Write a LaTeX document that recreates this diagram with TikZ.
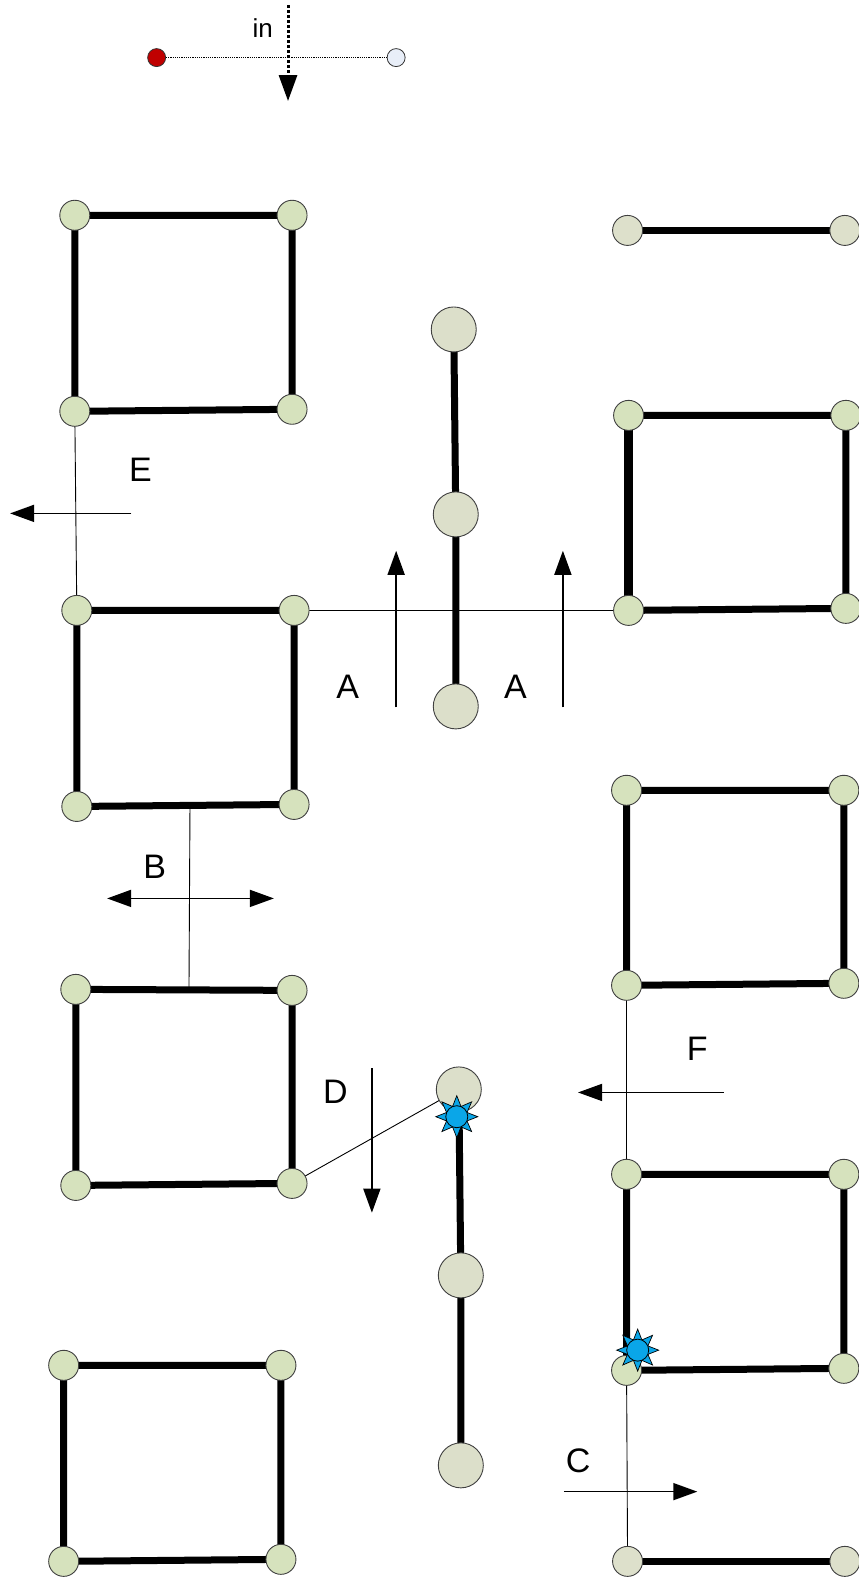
\documentclass[tikz,border=0pt]{standalone}
\usepackage{fontspec}
\setmainfont{Liberation Sans}
\usetikzlibrary{arrows.meta,shapes.geometric,backgrounds}
\definecolor{sqgreen}{HTML}{D6E2BD}
\definecolor{chaingrey}{HTML}{DCDFCA}
\definecolor{greyend}{HTML}{DDE0CB}
\definecolor{starblue}{HTML}{0AA6E8}
\definecolor{legred}{HTML}{C00000}
\definecolor{legwhite}{HTML}{E8EEF8}
\tikzset{
  sq/.style={circle,draw=black!75,line width=0.9pt,fill=sqgreen,minimum size=30pt,inner sep=0pt},
  sqg/.style={circle,draw=black!75,line width=0.9pt,fill=greyend,minimum size=30pt,inner sep=0pt},
  ch/.style={circle,draw=black!75,line width=0.9pt,fill=chaingrey,minimum size=45pt,inner sep=0pt},
  thick7/.style={line width=7pt},
  thick9/.style={line width=9pt},
  thinl/.style={line width=0.9pt},
  lbl/.style={font=\fontsize{34}{40}\selectfont,inner sep=0pt},
  arr/.style={line width=1.6pt,-{Triangle[length=24pt,width=17pt]}},
  darr/.style={line width=1.6pt,{Triangle[length=24pt,width=17pt]}-{Triangle[length=24pt,width=17pt]}},
  spark/.style={star,star points=8,star point ratio=1.9,minimum size=42pt,inner sep=0pt,draw=black,line width=0.7pt,fill=starblue},
  sparkdot/.style={circle,minimum size=22pt,inner sep=0pt,draw=black,line width=0.8pt,fill=starblue},
}
\begin{document}
\begin{tikzpicture}[x=1.0106pt,y=-1.0106pt]
\useasboundingbox (0,0) rectangle (850,1568.4);
% legend
\node[circle,draw=black!80,line width=0.8pt,fill=legred,minimum size=18pt,inner sep=0pt] (lr) at (155,57) {};
\node[circle,draw=black!80,line width=0.8pt,fill=legwhite,minimum size=18pt,inner sep=0pt] (lw) at (392,57) {};
\draw[line width=1.2pt,densely dotted] (lr) -- (lw);
\coordinate (inS) at (285,5);
\coordinate (inE) at (285,100);
\draw[line width=3pt,dotted,-{Triangle[length=26pt,width=18pt]}] (inS) -- (inE);
\node[font=\fontsize{26}{30}\selectfont,inner sep=0pt] (inlbl) at (260,28) {in};

% left column squares
\node[sq] (s1a) at (74,213) {};
\node[sq] (s1b) at (289,213) {};
\node[sq] (s1c) at (74,407) {};
\node[sq] (s1d) at (289,405) {};
\node[sq] (s2a) at (76,604) {};
\node[sq] (s2b) at (291,604) {};
\node[sq] (s2c) at (76,798) {};
\node[sq] (s2d) at (291,796) {};
\node[sq] (s3a) at (75,979) {};
\node[sq] (s3b) at (289,980) {};
\node[sq] (s3c) at (75,1173) {};
\node[sq] (s3d) at (289,1171) {};
\node[sq] (s4a) at (63,1351) {};
\node[sq] (s4b) at (278,1351) {};
\node[sq] (s4c) at (63,1545) {};
\node[sq] (s4d) at (278,1543) {};

% center chains
\node[ch] (c1) at (449,326) {};
\node[ch] (c2) at (451,509) {};
\node[ch] (c3) at (451,699) {};
\node[ch] (c4) at (454,1078) {};
\node[ch] (c5) at (456,1262) {};
\node[ch] (c6) at (456,1450) {};

% right column
\node[sqg] (t1) at (621,228) {};
\node[sqg] (t2) at (836,228) {};
\node[sq] (r1a) at (622,411) {};
\node[sq] (r1b) at (837,411) {};
\node[sq] (r1c) at (622,604) {};
\node[sq] (r1d) at (837,602) {};
\node[sq] (r2a) at (620,782) {};
\node[sq] (r2b) at (835,782) {};
\node[sq] (r2c) at (620,975) {};
\node[sq] (r2d) at (835,973) {};
\node[sq] (r3a) at (620,1162) {};
\node[sq] (r3b) at (835,1162) {};
\node[sq] (r3c) at (620,1356) {};
\node[sq] (r3d) at (835,1354) {};
\node[sqg] (b1) at (621,1545) {};
\node[sqg] (b2) at (836,1545) {};

\coordinate (bm1) at (188,797);
\coordinate (bm2) at (187,979);

\begin{scope}[on background layer]
  % thin connectors
  \draw[thinl] (s1c.center) -- (s2a.center);
  \draw[thinl] (bm1) -- (bm2);
  \draw[thinl] (s2b.center) -- (r1c.center);
  \draw[thinl] (s3d.center) -- (c4.center);
  \draw[thinl] (r2c.center) -- (r3a.center);
  \draw[thinl] (r3c.center) -- (b1.center);
  % thick squares
  \foreach \p in {s1,s2,s3,s4,r2,r3}{
    \draw[thick7] (\p a.center) -- (\p b.center) -- (\p d.center) -- (\p c.center) -- cycle;
  }
  \draw[thick7] (r1a.center) -- (r1b.center) -- (r1d.center) -- (r1c.center);
  \draw[thick9] (r1c.center) -- (r1a.center);
  \draw[thick7] (c1.center) -- (c2.center) -- (c3.center);
  \draw[thick7] (c4.center) -- (c5.center) -- (c6.center);
  \draw[thick7] (t1.center) -- (t2.center);
  \draw[thick7] (b1.center) -- (b2.center);
\end{scope}

% sparkles
\node[spark] (st1) at (452,1105) {};
\node[sparkdot] (sd1) at (452,1105) {};
\node[spark] (st2) at (631,1336) {};
\node[sparkdot] (sd2) at (631,1336) {};

% arrows and labels
\coordinate (eS) at (130,508); \coordinate (eE) at (10,508);
\draw[arr] (eS) -- (eE);
\node[lbl] (le) at (139,465) {E};
\coordinate (a1S) at (392,700); \coordinate (a1E) at (392,545);
\draw[arr] (a1S) -- (a1E);
\node[lbl] (la1) at (344,680) {A};
\coordinate (a2S) at (557,700); \coordinate (a2E) at (557,545);
\draw[arr] (a2S) -- (a2E);
\node[lbl] (la2) at (510,680) {A};
\coordinate (bS) at (106,889); \coordinate (bE) at (271,889);
\draw[darr] (bS) -- (bE);
\node[lbl] (lb) at (153,858) {B};
\coordinate (dS) at (368,1057); \coordinate (dE) at (368,1200);
\draw[arr] (dS) -- (dE);
\node[lbl] (ld) at (332,1080) {D};
\coordinate (fS) at (716,1081); \coordinate (fE) at (572,1081);
\draw[arr] (fS) -- (fE);
\node[lbl] (lf) at (690,1038) {F};
\coordinate (cS) at (558,1476); \coordinate (cE) at (690,1476);
\draw[arr] (cS) -- (cE);
\node[lbl] (lc) at (572,1445) {C};
\end{tikzpicture}
\end{document}
